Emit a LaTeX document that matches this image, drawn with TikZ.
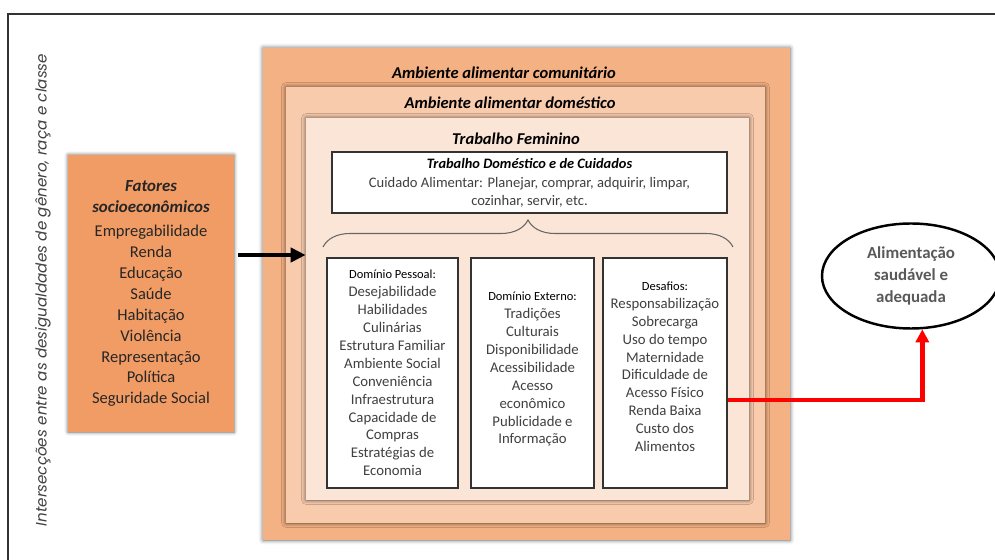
\documentclass[tikz,border=0pt]{standalone}
\usepackage{fontspec}
\setmainfont{Carlito}
\newfontfamily\gothicfont{Poppins}
\usetikzlibrary{shapes,arrows.meta,positioning,calc,shadows.blur,decorations.pathreplacing}

\definecolor{comunit}{HTML}{F4B183}
\definecolor{domest}{HTML}{F8CBAD}
\definecolor{feminino}{HTML}{FBE5D6}
\definecolor{fatorcor}{HTML}{F19C65}
\definecolor{cinzatexto}{HTML}{404040}
\newcommand{\cabdominio}{\fontsize{7.1}{10.2}\selectfont\color{black}}
\newcommand{\fatortit}[1]{{\bfseries\itshape\fontsize{9.6}{12.5}\selectfont #1}}

\begin{document}
\begin{tikzpicture}[x=0.02cm, y=-0.02cm,
  camada/.style={rectangle, inner sep=0pt, blur shadow={shadow xshift=0pt, shadow yshift=0pt, shadow blur radius=2.5pt, shadow opacity=60}},
  titulo/.style={inner sep=0pt, font=\fontsize{9.4}{11}\selectfont\bfseries\itshape},
  caixa/.style={draw=black!80, fill=white, line width=0.6pt, rectangle, inner sep=0pt, align=center},
  dominio/.style={caixa, minimum height=230*0.02cm, text=cinzatexto, font=\fontsize{8.4}{10.2}\selectfont}
]
\useasboundingbox (0,0) rectangle (995,560);

% moldura
\draw[line width=0.8pt, black!80] (8,560) -- (8,14) -- (995,14);

% texto vertical
\node[rotate=90, text=cinzatexto, font=\gothicfont\itshape\fontsize{8.6}{10}\selectfont] (intersec) at (43,290)
  {Intersecções entre as desigualdades de gênero, raça e classe};

% camadas do ambiente
\node[camada, fill=comunit, minimum width=527*0.02cm, minimum height=492*0.02cm] (comunitario) at (526.5,294) {};
\node[camada, fill=domest, minimum width=479*0.02cm, minimum height=436*0.02cm] (domestico) at (525.5,305) {};
\node[camada, fill=feminino, minimum width=443*0.02cm, minimum height=382*0.02cm] (feminino) at (527.5,309) {};

\node[titulo] (tcomunit) at (504,73) {Ambiente alimentar comunitário};
\node[titulo] (tdomest) at (510,103) {Ambiente alimentar doméstico};
\node[titulo] (tfeminino) at (516,139) {Trabalho Feminino};

% trabalho domestico
\node[caixa, minimum width=395*0.02cm, minimum height=61*0.02cm, font=\fontsize{8.3}{10}\selectfont, text=cinzatexto] (cuidados) at (529.5,182.5)
  {{\color{black}\bfseries\itshape\fontsize{8.2}{10}\selectfont Trabalho Doméstico e de Cuidados}\\[1pt]
   Cuidado Alimentar: Planejar, comprar, adquirir, limpar,\\ cozinhar, servir, etc.};

% chave
\draw[black!60, line width=0.6pt, decorate, decoration={brace, amplitude=0.54cm}] (323,247) -- (733,247);

% dominios
\node[dominio, minimum width=131*0.02cm] (pessoal) at (392.5,373)
  {{\cabdominio Domínio Pessoal:}\\ Desejabilidade\\ Habilidades\\ Culinárias\\ Estrutura Familiar\\ Ambiente Social\\
   Conveniência\\ Infraestrutura\\ Capacidade de\\ Compras\\ Estratégias de\\ Economia};
\node[dominio, minimum width=123*0.02cm] (externo) at (532.5,373)
  {{\cabdominio Domínio Externo:}\\ Tradições\\ Culturais\\ Disponibilidade\\ Acessibilidade\\ Acesso\\ econômico\\
   Publicidade e\\ Informação\\[-4.5pt]};
\node[dominio, minimum width=124*0.02cm] (desafios) at (665,373)
  {{\cabdominio Desafios:}\\ Responsabilização\\ Sobrecarga\\ Uso do tempo\\ Maternidade\\ Dificuldade de\\
   Acesso Físico\\ Renda Baixa\\ Custo dos\\ Alimentos\\[-3pt]};

% fatores
\node[rectangle, fill=fatorcor, inner sep=0pt, minimum width=166*0.02cm, minimum height=277*0.02cm, align=center,
  text=black!85, font=\fontsize{9.4}{11.9}\selectfont,
  blur shadow={shadow xshift=0pt, shadow yshift=0pt, shadow blur radius=2pt, shadow opacity=60}] (fatores) at (151,293.5)
  {\fatortit{Fatores}\\ \fatortit{socioeconômicos}\\[2pt]
   Empregabilidade\\ Renda\\ Educação\\ Saúde\\ Habitação\\ Violência\\ Representação\\ Política\\ Seguridade Social};

% alimentacao
\node[draw, ellipse, line width=1.4pt, fill=white, minimum width=178*0.02cm, minimum height=105*0.02cm, inner sep=0pt,
  align=center, text=black!65, font=\fontsize{9.6}{12.5}\selectfont\bfseries] (alimentacao) at (911,276)
  {Alimentação\\ saudável e\\ adequada};

% setas
\coordinate (pontapreta) at (feminino.west |- 0,255);
\draw[line width=2.3pt, -{Triangle[length=8.5pt, width=8pt]}] ([xshift=0.08cm]fatores.east |- pontapreta) -- (pontapreta);
\draw[red, line width=2.5pt, -{Triangle[length=7.5pt, width=7.5pt]}] ([yshift=-0.54cm]desafios.east) -| (alimentacao.-78);
\end{tikzpicture}
\end{document}
